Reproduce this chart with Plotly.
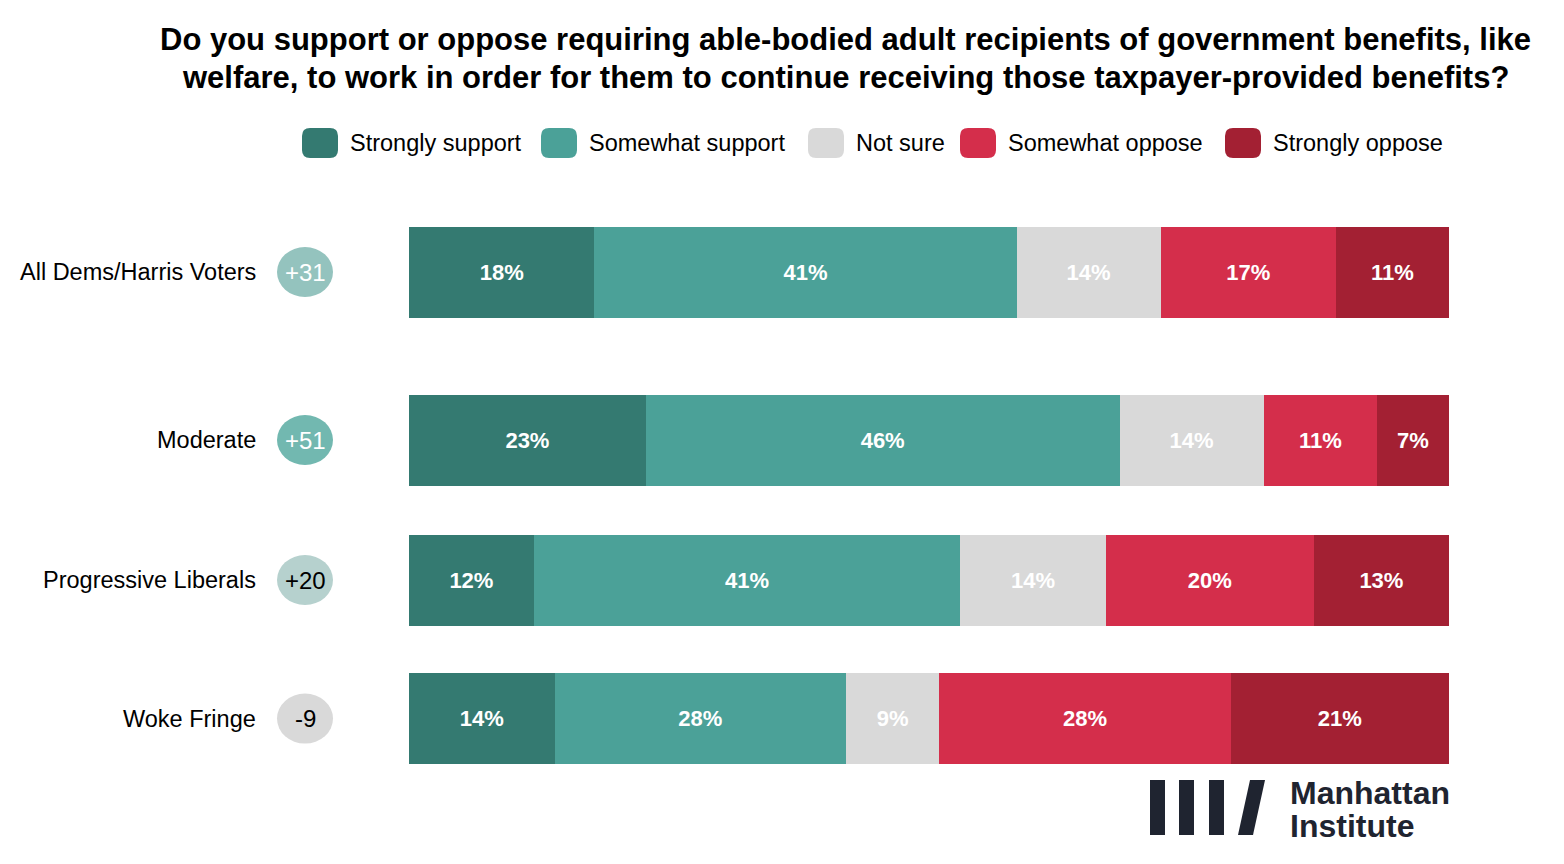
import plotly.graph_objects as go

W, H = 1564, 864
OFF = 8  # page body margin offset

groups = ["All Dems/Harris Voters", "Moderate", "Progressive Liberals", "Woke Fringe"]
row_pos = [0, 1.2, 2.2, 3.19]
strongly_support = [18, 23, 12, 14]
somewhat_support = [41, 46, 41, 28]
not_sure = [14, 14, 14, 9]
somewhat_oppose = [17, 11, 20, 28]
strongly_oppose = [11, 7, 13, 21]
net_labels = ["+31", "+51", "+20", "-9"]
net_fill = ["#94c3be", "#72b8b0", "#b6d1ce", "#d9d9d9"]
net_text = ["white", "white", "black", "black"]

series_names = ["Strongly support", "Somewhat support", "Not sure", "Somewhat oppose", "Strongly oppose"]
series_values = [strongly_support, somewhat_support, not_sure, somewhat_oppose, strongly_oppose]
series_colors = ["#347a71", "#4ba198", "#d9d9d9", "#d42e4b", "#a32033"]

FONT = "Liberation Sans, Arial, Helvetica, sans-serif"

def px(x):
    return (x - OFF) / W

def py(y):
    return 1 - (y - OFF) / H

ROW_PX = 140.0
ROW0 = 272 - OFF

fig = go.Figure()
for name, vals, col in zip(series_names, series_values, series_colors):
    fig.add_trace(go.Bar(
        y=row_pos, x=vals, name=name, orientation="h",
        marker=dict(color=col, line=dict(width=0)),
        width=0.65,
        text=[f"{v}%" for v in vals],
        textposition="inside", insidetextanchor="middle", textangle=0,
        insidetextfont=dict(color="white", size=22, family=FONT),
        texttemplate="<b>%{text}</b>",
        hoverinfo="name+x",
        showlegend=False,
    ))

shapes = []
annotations = []

# Title
annotations.append(dict(x=px(845), y=py(40), xref="paper", yref="paper", xanchor="center", yanchor="middle",
                        text="<b>Do you support or oppose requiring able-bodied adult recipients of government benefits, like</b>",
                        showarrow=False, font=dict(size=31, color="black", family=FONT)))
annotations.append(dict(x=px(845), y=py(78), xref="paper", yref="paper", xanchor="center", yanchor="middle",
                        text="<b>welfare, to work in order for them to continue receiving those taxpayer-provided benefits?</b>",
                        showarrow=False, font=dict(size=31, color="black", family=FONT)))

# Custom legend
def rounded_rect(x0, y0, x1, y1, r):
    X = lambda v: f"{px(v):.6f}"
    Y = lambda v: f"{py(v):.6f}"
    return (f"M {X(x0+r)},{Y(y0)} L {X(x1-r)},{Y(y0)} Q {X(x1)},{Y(y0)} {X(x1)},{Y(y0+r)} "
            f"L {X(x1)},{Y(y1-r)} Q {X(x1)},{Y(y1)} {X(x1-r)},{Y(y1)} "
            f"L {X(x0+r)},{Y(y1)} Q {X(x0)},{Y(y1)} {X(x0)},{Y(y1-r)} "
            f"L {X(x0)},{Y(y0+r)} Q {X(x0)},{Y(y0)} {X(x0+r)},{Y(y0)} Z")

legend_x = [302, 541, 808, 960, 1225]
for lx, name, col in zip(legend_x, series_names, series_colors):
    shapes.append(dict(type="path", xref="paper", yref="paper", path=rounded_rect(lx, 128, lx + 36, 158, 8),
                       fillcolor=col, line=dict(width=0)))
    annotations.append(dict(x=px(lx + 46), y=py(143), xref="paper", yref="paper", xanchor="left", yanchor="middle",
                            text=name, showarrow=False, font=dict(size=23.5, color="black", family=FONT)))

# Category labels and net badges
for g, p, nl, nf, nt in zip(groups, row_pos, net_labels, net_fill, net_text):
    annotations.append(dict(x=px(258), y=p, xref="paper", yref="y", xanchor="right", yanchor="middle",
                            text=g, showarrow=False, font=dict(size=23.5, color="black", family=FONT)))
    shapes.append(dict(type="circle", xref="paper", yref="y", x0=px(277), x1=px(333),
                       y0=p - 25 / ROW_PX, y1=p + 25 / ROW_PX, fillcolor=nf, line=dict(width=0)))
    annotations.append(dict(x=px(305), y=p, xref="paper", yref="y", xanchor="center", yanchor="middle",
                            text=nl, showarrow=False, font=dict(size=24, color=nt, family=FONT)))

# Logo
logo_col = "#1f2430"
for bx in [1150, 1179, 1209]:
    shapes.append(dict(type="rect", xref="paper", yref="paper", x0=px(bx), x1=px(bx + 15),
                       y0=py(835), y1=py(780), fillcolor=logo_col, line=dict(width=0)))
shapes.append(dict(type="path", xref="paper", yref="paper",
                   path=f"M {px(1238)},{py(835)} L {px(1253)},{py(835)} L {px(1265)},{py(780)} L {px(1250)},{py(780)} Z",
                   fillcolor=logo_col, line=dict(width=0)))
annotations.append(dict(x=px(1288), y=py(793), xref="paper", yref="paper", xanchor="left", yanchor="middle",
                        text="<b>Manhattan</b>", showarrow=False, font=dict(size=32, color=logo_col, family=FONT)))
annotations.append(dict(x=px(1288), y=py(826), xref="paper", yref="paper", xanchor="left", yanchor="middle",
                        text="<b>Institute</b>", showarrow=False, font=dict(size=32, color=logo_col, family=FONT)))

fig.update_layout(
    width=W, height=H,
    barmode="stack", barnorm="percent",
    margin=dict(l=0, r=0, t=0, b=0),
    paper_bgcolor="white", plot_bgcolor="white",
    showlegend=False,
    xaxis=dict(domain=[px(409), px(1449)], range=[0, 100], visible=False, fixedrange=True),
    yaxis=dict(domain=[0, 1], range=[(H - ROW0) / ROW_PX, -ROW0 / ROW_PX], visible=False, fixedrange=True),
    shapes=shapes, annotations=annotations,
    font=dict(family=FONT),
)

fig.write_html("out.html")
